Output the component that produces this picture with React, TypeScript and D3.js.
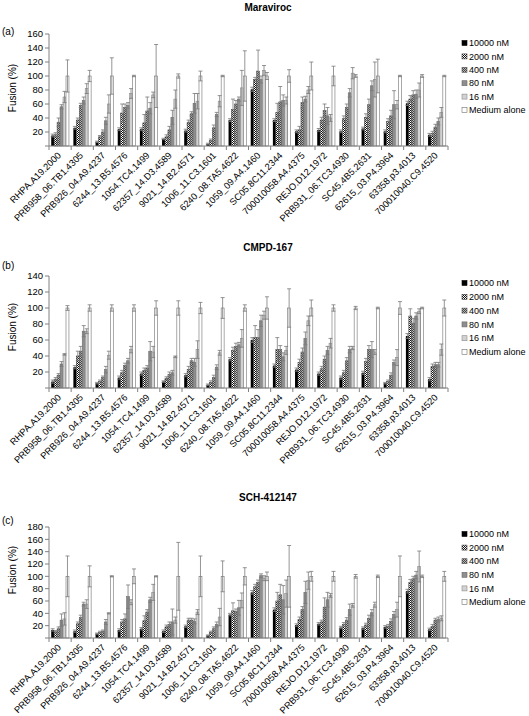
import React from "react";
import * as d3 from "d3";

const categories = [
  "RHPA.A19.2000",
  "PRB958_06.TB1.4305",
  "PRB926_04.A9.4237",
  "6244_13.B5.4576",
  "1054.TC4.1499",
  "62357_14.D3.4589",
  "9021_14.B2.4571",
  "1006_11.C3.1601",
  "6240_08.TA5.4622",
  "1059_09.A4.1460",
  "SC05.8C11.2344",
  "700010058.A4.4375",
  "REJO.D12.1972",
  "PRB931_06.TC3.4930",
  "SC45.4B5.2631",
  "62615_03.P4.3964",
  "63358.p3.4013",
  "700010040.C9.4520",
];

const seriesNames = ["10000 nM", "2000 nM", "400 nM", "80 nM", "16 nM", "Medium alone"];

// (a) Maraviroc
const maravV10000 = [15, 26, 6, 24, 24, 10, 22, 3, 37, 81, 37, 21, 23, 21, 25, 21, 61, 16];
const maravE10000 = [2, 2, 1, 2, 2, 1, 2, 1, 2, 3, 2, 2, 2, 2, 2, 2, 3, 2];
const maravV2000 = [16, 37, 13, 47, 33, 13, 34, 8, 52, 95, 48, 23, 37, 39, 41, 35, 67, 18];
const maravE2000 = [3, 3, 2, 13, 12, 3, 3, 2, 15, 3, 13, 5, 4, 4, 5, 4, 5, 3];
const maravV400 = [34, 58, 20, 55, 50, 23, 46, 26, 60, 107, 63, 62, 51, 55, 59, 43, 73, 27];
const maravE400 = [6, 3, 3, 5, 20, 5, 3, 4, 5, 30, 22, 8, 9, 5, 8, 8, 6, 4];
const maravV80 = [56, 65, 36, 58, 54, 41, 61, 45, 67, 95, 65, 67, 43, 76, 86, 59, 74, 35];
const maravE80 = [3, 5, 5, 4, 8, 10, 14, 3, 3, 5, 8, 4, 12, 6, 7, 20, 6, 5];
const maravV16 = [70, 82, 60, 75, 73, 67, 64, 64, 83, 108, 65, 80, 40, 104, 95, 59, 80, 48];
const maravE16 = [8, 7, 13, 7, 4, 13, 11, 8, 25, 7, 5, 5, 5, 8, 25, 6, 10, 7];
const maravVMed = [100, 100, 100, 100, 100, 100, 100, 100, 100, 100, 100, 100, 100, 100, 100, 100, 100, 100];
const maravEMed = [23, 8, 26, 1, 45, 3, 7, 1, 36, 5, 9, 20, 14, 2, 24, 1, 2, 1];

// (b) CMPD-167
const cmpdV10000 = [8, 26, 6, 13, 18, 8, 16, 4, 36, 60, 28, 23, 18, 13, 19, 6, 65, 11];
const cmpdE10000 = [2, 2, 1, 2, 2, 1, 2, 1, 2, 3, 2, 2, 2, 2, 2, 1, 3, 2];
const cmpdV2000 = [11, 40, 8, 19, 22, 12, 23, 7, 47, 63, 48, 32, 24, 19, 33, 8, 90, 27];
const cmpdE2000 = [2, 6, 2, 3, 3, 2, 4, 2, 4, 15, 15, 4, 3, 3, 4, 2, 9, 3];
const cmpdV400 = [16, 46, 13, 28, 25, 17, 34, 13, 52, 63, 48, 45, 36, 34, 48, 16, 81, 29];
const cmpdE400 = [2, 6, 2, 3, 3, 3, 3, 3, 4, 10, 5, 5, 4, 4, 5, 3, 6, 3];
const cmpdV80 = [30, 71, 23, 34, 46, 19, 32, 26, 54, 84, 39, 62, 47, 48, 48, 32, 90, 29];
const cmpdE80 = [3, 7, 4, 3, 12, 3, 5, 3, 3, 7, 5, 8, 5, 4, 10, 3, 4, 3];
const cmpdV16 = [42, 71, 41, 48, 45, 39, 48, 44, 62, 91, 47, 84, 56, 50, 45, 38, 96, 48];
const cmpdE16 = [1, 3, 5, 4, 7, 1, 11, 3, 11, 5, 5, 6, 6, 2, 3, 10, 3, 7];
const cmpdVMed = [100, 100, 100, 100, 100, 100, 100, 100, 100, 100, 100, 100, 100, 100, 100, 100, 100, 100];
const cmpdEMed = [3, 4, 4, 4, 9, 9, 7, 13, 4, 14, 24, 10, 4, 2, 1, 8, 1, 10];

// (c) SCH-412147
const schV10000 = [13, 11, 7, 13, 15, 11, 19, 4, 38, 74, 46, 21, 23, 17, 16, 18, 76, 14];
const schE10000 = [2, 2, 1, 2, 2, 2, 2, 1, 2, 3, 3, 2, 2, 2, 2, 2, 3, 2];
const schV2000 = [10, 23, 9, 26, 28, 18, 29, 9, 44, 83, 60, 30, 26, 22, 21, 19, 90, 19];
const schE2000 = [2, 3, 2, 4, 8, 3, 3, 2, 13, 4, 14, 4, 3, 3, 3, 3, 5, 3];
const schV400 = [15, 33, 11, 31, 42, 22, 29, 15, 43, 90, 70, 46, 50, 29, 32, 27, 96, 29];
const schE400 = [3, 4, 2, 8, 4, 4, 3, 3, 4, 4, 17, 5, 15, 4, 5, 4, 4, 3];
const schV80 = [29, 55, 26, 67, 62, 26, 27, 22, 49, 101, 62, 74, 62, 46, 41, 38, 102, 30];
const schE80 = [10, 3, 4, 19, 4, 21, 4, 4, 12, 3, 23, 18, 12, 9, 5, 5, 6, 4];
const schV16 = [31, 55, 40, 58, 74, 29, 42, 34, 61, 97, 72, 93, 69, 53, 54, 46, 116, 32];
const schE16 = [10, 7, 1, 4, 13, 5, 4, 14, 12, 4, 22, 14, 3, 3, 4, 12, 25, 4];
const schVMed = [100, 100, 100, 100, 100, 100, 100, 100, 100, 100, 100, 100, 100, 100, 100, 100, 100, 100];
const schEMed = [33, 17, 1, 12, 1, 55, 33, 25, 14, 7, 50, 8, 8, 3, 2, 33, 2, 8];

const yTicksA = [20, 40, 60, 80, 100, 120, 140, 160];
const yTicksB = [20, 40, 60, 80, 100, 120, 140];
const yTicksC = [20, 40, 60, 80, 100, 120, 140, 160, 180];

const panels = [
  {
    title: "Maraviroc", letter: "(a)", yMax: 160, ticks: yTicksA,
    top: 34, bottom: 146, titleY: 11, letterY: 35, legendY: 43, legendStep: 13.4, axisLabelY: 88,
    values: [maravV10000, maravV2000, maravV400, maravV80, maravV16, maravVMed],
    errors: [maravE10000, maravE2000, maravE400, maravE80, maravE16, maravEMed],
  },
  {
    title: "CMPD-167", letter: "(b)", yMax: 140, ticks: yTicksB,
    top: 276, bottom: 388, titleY: 251, letterY: 269, legendY: 283, legendStep: 13.8, axisLabelY: 327,
    values: [cmpdV10000, cmpdV2000, cmpdV400, cmpdV80, cmpdV16, cmpdVMed],
    errors: [cmpdE10000, cmpdE2000, cmpdE400, cmpdE80, cmpdE16, cmpdEMed],
  },
  {
    title: "SCH-412147", letter: "(c)", yMax: 180, ticks: yTicksC,
    top: 527, bottom: 638, titleY: 501, letterY: 524, legendY: 534, legendStep: 13.6, axisLabelY: 570,
    values: [schV10000, schV2000, schV400, schV80, schV16, schVMed],
    errors: [schE10000, schE2000, schE400, schE80, schE16, schEMed],
  },
];

const FONT = "'Liberation Sans', Arial, Helvetica, sans-serif";
const fills = ["#000000", "url(#p2000)", "url(#p400)", "#8e8e8e", "#d2d2d2", "#ffffff"];
const strokes = ["#000000", "#444444", "#555555", "#6a6a6a", "#8a8a8a", "#707070"];
const AXIS = "#808080";
const ERR = "#7a7a7a";

const X0 = 49;
const X1 = 448;

function Panel({ p }: { p: (typeof panels)[number] }) {
  const x = d3.scaleBand<string>().domain(categories).range([X0, X1]).paddingInner(0.2).paddingOuter(0.1);
  const xs = d3.scaleBand<string>().domain(seriesNames).range([0, x.bandwidth()]);
  const y = d3.scaleLinear().domain([0, p.yMax]).range([p.bottom, p.top]);
  const step = x.step();
  const boundaries = d3.range(categories.length + 1).map((i) => X0 + i * step);
  const allTicks = [0, ...p.ticks];

  return (
    <g>
      <text x={268} y={p.titleY} textAnchor="middle" fontWeight="bold" fontSize={10} fontFamily={FONT}>
        {p.title}
      </text>
      <text x={2} y={p.letterY} fontSize={10} fontFamily={FONT}>{p.letter}</text>
      <text
        transform={`translate(12, ${p.axisLabelY}) rotate(-90)`}
        textAnchor="middle"
        dy="0.35em"
        fontSize={10}
        fontFamily={FONT}
      >
        Fusion (%)
      </text>

      {/* y axis */}
      <line x1={X0} x2={X0} y1={y(p.yMax)} y2={y(0)} stroke={AXIS} strokeWidth={1} />
      {allTicks.map((t) => (
        <g key={`yt${t}`}>
          <line x1={X0 - 4} x2={X0} y1={y(t)} y2={y(t)} stroke={AXIS} />
          {t > 0 && (
            <text x={43} y={y(t)} dy="0.35em" textAnchor="end" fontSize={9.5} fontFamily={FONT}>
              {t}
            </text>
          )}
        </g>
      ))}

      {/* bars */}
      {seriesNames.map((s, si) =>
        categories.map((c, ci) => {
          const v = p.values[si][ci];
          const bx = (x(c) as number) + (xs(s) as number);
          return (
            <rect
              key={`b${si}-${ci}`}
              x={bx}
              y={y(v)}
              width={xs.bandwidth()}
              height={y(0) - y(v)}
              fill={fills[si]}
              stroke={strokes[si]}
              strokeWidth={si === 0 ? 0 : 0.6}
            />
          );
        })
      )}

      {/* error bars */}
      {seriesNames.map((s, si) =>
        categories.map((c, ci) => {
          const v = p.values[si][ci];
          const e = p.errors[si][ci];
          if (!e) return null;
          const cx = (x(c) as number) + (xs(s) as number) + xs.bandwidth() / 2;
          const lo = Math.max(0, v - e);
          const hi = v + e;
          return (
            <g key={`e${si}-${ci}`} stroke={ERR} strokeWidth={0.8}>
              <line x1={cx} x2={cx} y1={y(lo)} y2={y(hi)} />
              <line x1={cx - 2} x2={cx + 2} y1={y(hi)} y2={y(hi)} />
              <line x1={cx - 2} x2={cx + 2} y1={y(lo)} y2={y(lo)} />
            </g>
          );
        })
      )}

      {/* x axis */}
      <line x1={X0} x2={X1} y1={y(0)} y2={y(0)} stroke={AXIS} />
      {boundaries.map((bx, i) => (
        <line key={`xt${i}`} x1={bx} x2={bx} y1={y(0)} y2={y(0) + 4} stroke={AXIS} />
      ))}
      {categories.map((c) => {
        const cx = (x(c) as number) + x.bandwidth() / 2;
        return (
          <text
            key={`xl${c}`}
            transform={`translate(${cx + 1.5}, ${y(0) + 10}) rotate(-45)`}
            textAnchor="end"
            fontSize={9.3}
            fontFamily={FONT}
          >
            {c}
          </text>
        );
      })}

      {/* legend */}
      {seriesNames.map((s, si) => {
        const ly = p.legendY + si * p.legendStep;
        return (
          <g key={`lg${si}`}>
            <rect x={462} y={ly - 2.5} width={5} height={5} fill={fills[si]} stroke={strokes[si]} strokeWidth={0.6} />
            <text x={469} y={ly} dy="0.35em" fontSize={9} fontFamily={FONT}>{s}</text>
          </g>
        );
      })}
    </g>
  );
}

export default function App() {
  return (
    <svg
      width={529}
      height={716}
      viewBox="0 0 529 716"
      style={{ position: "absolute", left: 0, top: 0, background: "#fff" }}
    >
      <defs>
        <pattern id="p2000" width={2} height={2} patternUnits="userSpaceOnUse">
          <rect width={2} height={2} fill="#ffffff" />
          <rect x={0} y={0} width={1} height={1} fill="#111111" />
          <rect x={1} y={1} width={1} height={1} fill="#111111" />
        </pattern>
        <pattern id="p400" width={2} height={2} patternUnits="userSpaceOnUse">
          <rect width={2} height={2} fill="#b8b8b8" />
          <rect x={0} y={0} width={1} height={1} fill="#444444" />
          <rect x={1} y={1} width={1} height={1} fill="#444444" />
        </pattern>
      </defs>
      <rect width={529} height={716} fill="#fff" />
      {panels.map((p) => (
        <Panel key={p.title} p={p} />
      ))}
    </svg>
  );
}
